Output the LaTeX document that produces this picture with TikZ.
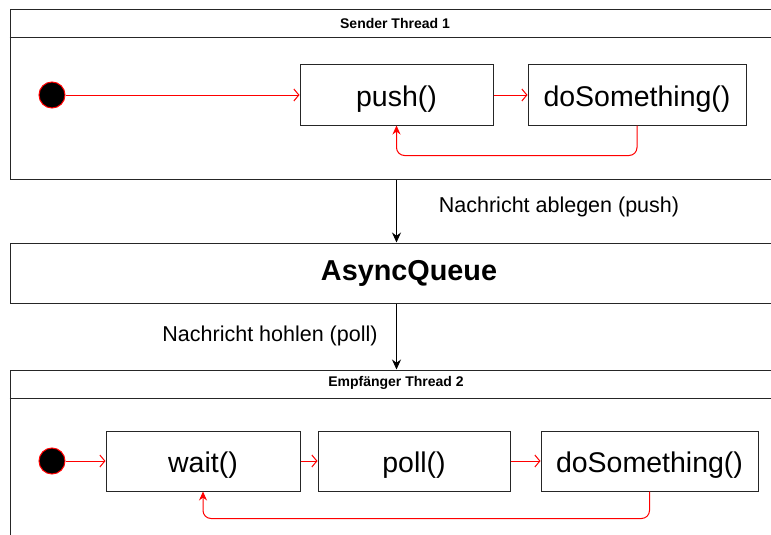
\documentclass[tikz,border=0pt]{standalone}
\usepackage{fontspec}
\setmainfont{Liberation Sans}
\usetikzlibrary{arrows.meta}
\begin{document}
\begin{tikzpicture}[x=1pt,y=-1pt,
  lane/.style={draw=black!85, line width=1pt, inner sep=0pt},
  state/.style={draw=black!85, line width=1pt, minimum height=60pt, inner sep=0pt, text height=23.4pt, text depth=0pt, font=\fontsize{28.5}{31}\selectfont},
  init/.style={circle, draw=red, fill=black, line width=1pt, minimum size=26pt, inner sep=0pt},
  title/.style={font=\bfseries\fontsize{14}{16}\selectfont},
  lbl/.style={font=\fontsize{21.5}{24}\selectfont, inner sep=0pt},
  flow/.style={draw=red, line width=1pt, -{Straight Barb[length=5pt,width=12pt]}},
  back/.style={draw=red, line width=1pt, rounded corners=8pt, -{Stealth[length=9pt,width=8pt]}},
  msg/.style={draw=black, line width=1pt, -{Stealth[length=10pt,width=9pt]}}
]
\useasboundingbox (0,0) rectangle (771,535);
\clip (0,0) rectangle (771,535);
% containers
\node[lane, minimum width=770pt, minimum height=169pt] (s1) at (395,94.5) {};
\node[title] (t1) at (395,23) {Sender Thread 1};
\draw[black!85, line width=1pt] (s1.west |- 0,38) -- (s1.east |- 0,38);
\node[lane, minimum width=798pt, minimum height=60pt, font=\bfseries\fontsize{28.8}{31}\selectfont] (q) at (409,273) {AsyncQueue};
\node[lane, minimum width=772pt, minimum height=180pt] (s2) at (396,460) {};
\node[title] (t2) at (396,383) {Empfänger Thread 2};
\draw[black!85, line width=1pt] (s2.west |- 0,398) -- (s2.east |- 0,398);
% sender states
\node[init] (i1) at (52,95) {};
\node[state, minimum width=193pt] (push) at (396.5,95) {push()};
\node[state, minimum width=218pt] (ds1) at (637,95) {doSomething()};
\draw[flow] (i1) -- (push);
\draw[flow] (push) -- (ds1);
\draw[back] (ds1.south) -- ++(0,30) -| (push.south);
% receiver states
\node[init] (i2) at (52,461) {};
\node[state, minimum width=194pt] (wait) at (203,461) {wait()};
\node[state, minimum width=192pt] (poll) at (414,461) {poll()};
\node[state, minimum width=217pt] (ds2) at (649.5,461) {doSomething()};
\draw[flow] (i2) -- (wait);
\draw[flow] (wait) -- (poll);
\draw[flow] (poll) -- (ds2);
\draw[back] (ds2.south) -- ++(0,27) -| (wait.south);
% messages
\draw[msg] (push.south |- s1.south) -- (push.south |- q.north);
\draw[msg] (push.south |- q.south) -- (push.south |- s2.north);
\node[lbl] (l1) at (559,207) {Nachricht ablegen (push)};
\node[lbl] (l2) at (270,336) {Nachricht hohlen (poll)};
\end{tikzpicture}
\end{document}
